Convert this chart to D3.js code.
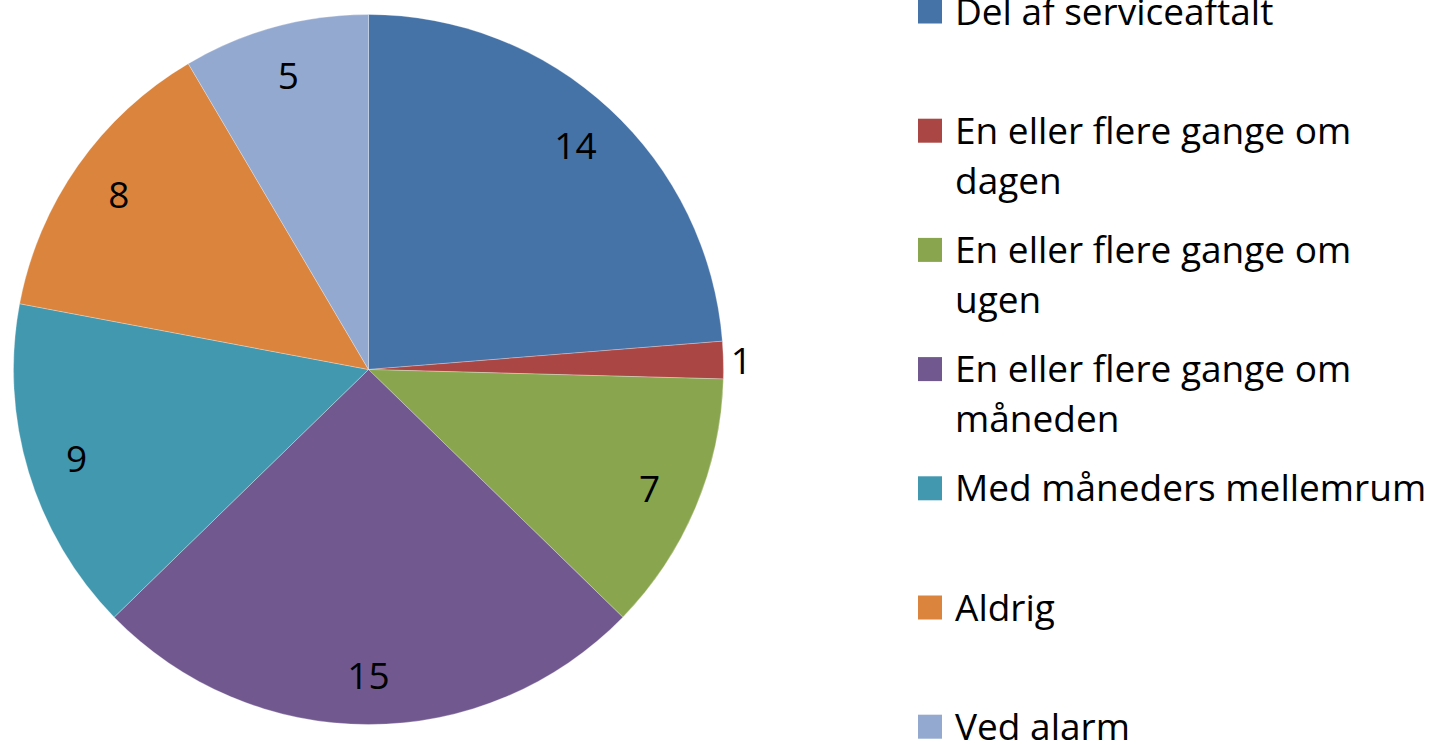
<!DOCTYPE html>
<html><head><meta charset="utf-8">
<script src="https://cdn.jsdelivr.net/npm/d3@7"></script>
<style>html,body{margin:0;padding:0;background:#fff;overflow:hidden}</style>
</head><body>
<svg id="c" width="1432" height="744"></svg>
<script>
const categories = ["Del af serviceaftalt","En eller flere gange om dagen","En eller flere gange om ugen","En eller flere gange om måneden","Med måneders mellemrum","Aldrig","Ved alarm"];
const legendLines = [["Del af serviceaftalt"],["En eller flere gange om","dagen"],["En eller flere gange om","ugen"],["En eller flere gange om","måneden"],["Med måneders mellemrum"],["Aldrig"],["Ved alarm"]];
const values = [14,1,7,15,9,8,5];
const colors = ["#4572A7","#AA4643","#89A54E","#71588F","#4198AF","#DB843D","#93A9CF"];

const svg = d3.select("#c");
const cx = 368.5, cy = 369.5, R = 355;
const font = "'Open Sans', sans-serif";
const fs = 37;

const pie = d3.pie().sort(null).value(d => d)(values);
const arc = d3.arc().innerRadius(0).outerRadius(R);
const g = svg.append("g").attr("transform", `translate(${cx},${cy})`);
g.selectAll("path").data(pie).enter().append("path")
  .attr("d", arc).attr("fill", (d,i) => colors[i])
  .attr("stroke", "rgba(255,255,255,0.35)").attr("stroke-width", 0.8);

const labelArc = d3.arc().innerRadius(305).outerRadius(305);
const outArc = d3.arc().innerRadius(373).outerRadius(373);
g.selectAll("text.lbl").data(pie).enter().append("text")
  .attr("class","lbl")
  .attr("transform", d => {
    const p = (d.data < 3 ? outArc : labelArc).centroid(d);
    return `translate(${p[0]},${p[1]})`;
  })
  .attr("text-anchor","middle").attr("dy","0.38em")
  .attr("font-family", font).attr("font-size", fs).attr("fill","#000")
  .text(d => d.data);

const lx = 918, ly0 = -0.5, step = 119.2, sq = 24;
const lg = svg.append("g");
categories.forEach((c,i) => {
  const y = ly0 + i*step;
  lg.append("rect").attr("x", lx).attr("y", y).attr("width", sq).attr("height", sq).attr("fill", colors[i]);
  const t = lg.append("text").attr("font-family", font).attr("font-size", fs).attr("fill","#000");
  legendLines[i].forEach((ln,j) => {
    const ts = t.append("tspan").attr("x", 955).attr("y", y + sq + 1 + j*50).text(ln);
    const w = ts.node().getComputedTextLength();
    if (955 + w > 1428) ts.attr("textLength", 1428 - 955).attr("lengthAdjust", "spacingAndGlyphs");
  });
});
</script>
</body></html>
